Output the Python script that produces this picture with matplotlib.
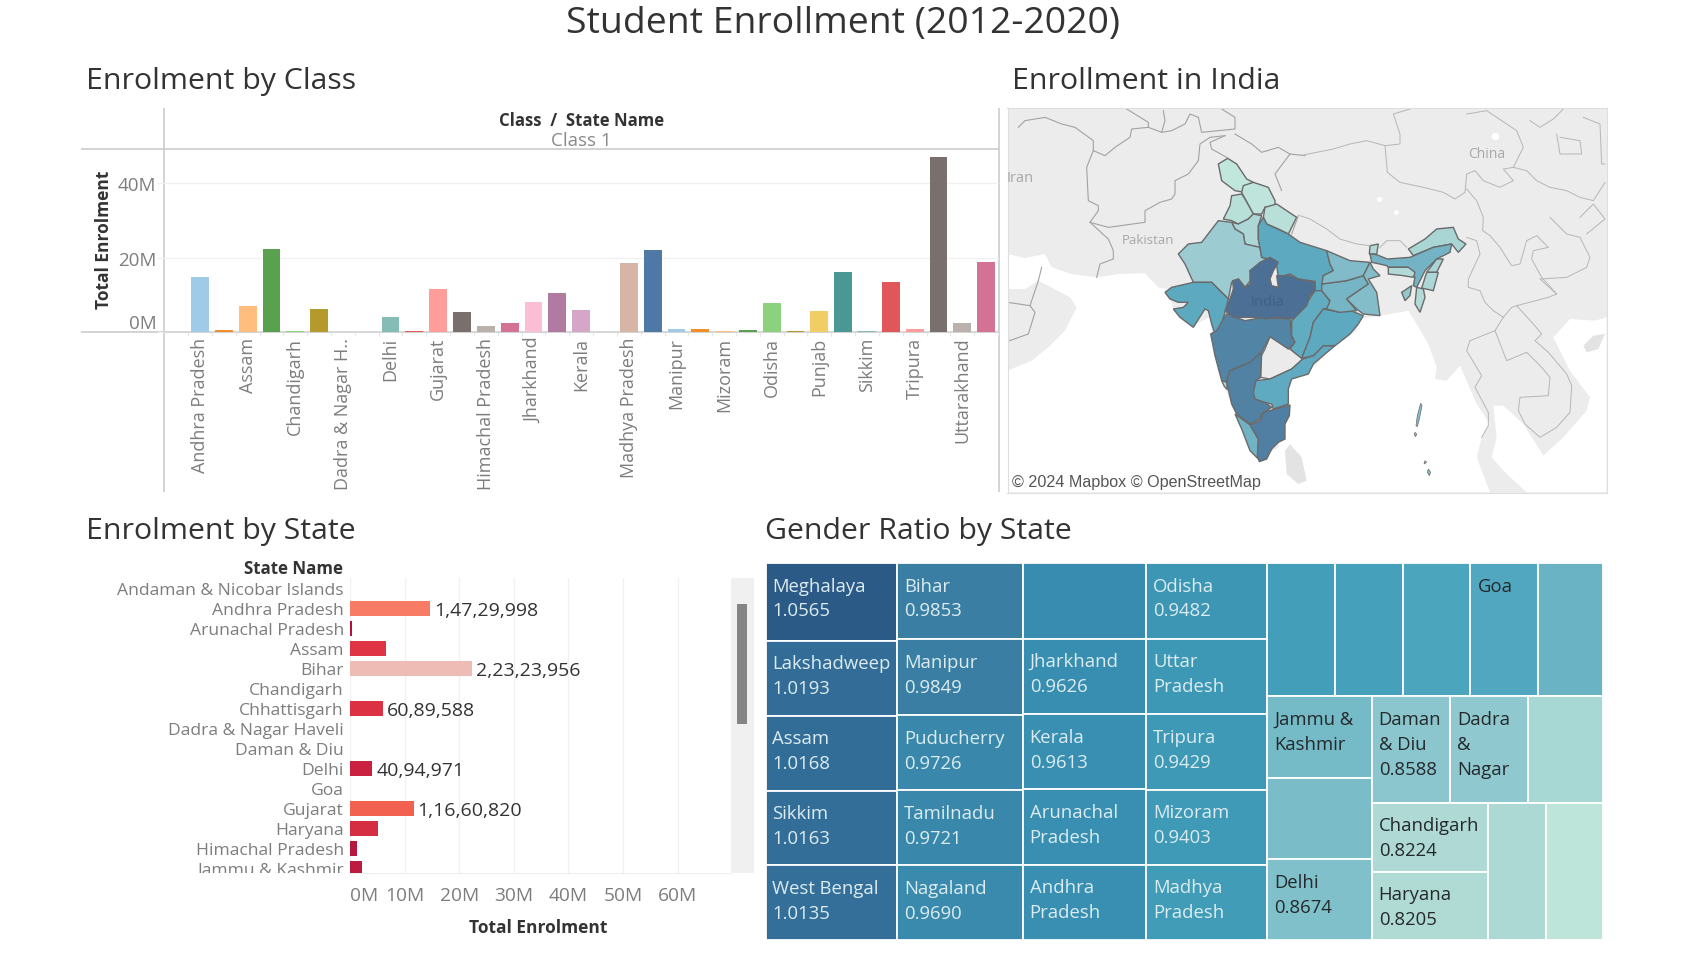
#!/usr/bin/env python
"""
Student Enrollment dashboard - bars, state map, horizontal bars, treemap
"""

import matplotlib
matplotlib.use('Agg')
import matplotlib.pyplot as plt
from matplotlib.colors import LinearSegmentedColormap
from matplotlib.patches import Rectangle
from matplotlib.transforms import Affine2D, Bbox

plt.rcParams['font.family'] = ['Open Sans', 'DejaVu Sans']

W, H = 1702, 954

# ---- Enrolment by Class (Class 1)
class_states = ['Andhra Pradesh', 'Arunachal Pradesh', 'Assam', 'Bihar', 'Chandigarh', 'Chhattisgarh',
                'Dadra & Nagar H..', 'Daman & Diu', 'Delhi', 'Goa', 'Gujarat', 'Haryana',
                'Himachal Pradesh', 'Jammu & Kashmir', 'Jharkhand', 'Karnataka', 'Kerala', 'Lakshadweep',
                'Madhya Pradesh', 'Maharashtra', 'Manipur', 'Meghalaya', 'Mizoram', 'Nagaland',
                'Odisha', 'Puducherry', 'Punjab', 'Rajasthan', 'Sikkim', 'Tamilnadu',
                'Tripura', 'Uttar Pradesh', 'Uttarakhand', 'West Bengal']
class_values = [14.73, 0.6, 7.0, 22.32, 0.3, 6.09, 0.0, 0.0, 4.09, 0.3, 11.66, 5.3,
                1.6, 2.5, 8.0, 10.5, 6.0, 0.0, 18.4, 22.1, 0.9, 0.9, 0.3, 0.6,
                7.8, 0.3, 5.7, 16.2, 0.3, 13.5, 0.9, 47.1, 2.5, 18.7]
class_colors = ['#a0cbe8', '#f28e2b', '#ffbe7d', '#59a14f', '#8cd17d', '#b6992d',
                '#499894', '#86bcb6', '#86bcb6', '#e15759', '#ff9d9a', '#79706e',
                '#bab0ac', '#d37295', '#fabfd2', '#b07aa1', '#d4a6c8', '#9d7660',
                '#d7b5a6', '#4e79a7', '#a0cbe8', '#f28e2b', '#ffbe7d', '#59a14f',
                '#8cd17d', '#b6992d', '#f1ce63', '#499894', '#86bcb6', '#e15759',
                '#ff9d9a', '#79706e', '#bab0ac', '#d37295']

# ---- Enrolment by State
state_names = ['Andaman & Nicobar Islands', 'Andhra Pradesh', 'Arunachal Pradesh', 'Assam', 'Bihar',
               'Chandigarh', 'Chhattisgarh', 'Dadra & Nagar Haveli', 'Daman & Diu', 'Delhi', 'Goa',
               'Gujarat', 'Haryana', 'Himachal Pradesh', 'Jammu & Kashmir']
state_values = [0.0, 14729998, 300000, 6600000, 22323956, 0.0, 6089588, 0.0, 0.0, 4094971, 0.0,
                11660820, 5200000, 1200000, 2200000]
state_colors = ['#ffffff', '#f87b65', '#b5103c', '#de3444', '#eebcb5', '#ffffff', '#dc3043', '#ffffff',
                '#ffffff', '#c9213f', '#ffffff', '#f26050', '#d52e42', '#b8173d', '#bc1c3f']
state_labels = ['', '1,47,29,998', '', '', '2,23,23,956', '', '60,89,588', '', '', '40,94,971', '',
                '1,16,60,820', '', '', '']

# ---- Gender Ratio by State (size and colour are both the ratio)
ratio_labels = ['Meghalaya\n1.0565', 'Lakshadweep\n1.0193', 'Assam\n1.0168', 'Sikkim\n1.0163', 'West Bengal\n1.0135',
                'Bihar\n0.9853', 'Manipur\n0.9849', 'Puducherry\n0.9726', 'Tamilnadu\n0.9721', 'Nagaland\n0.9690',
                '', 'Jharkhand\n0.9626', 'Kerala\n0.9613', 'Arunachal\nPradesh', 'Andhra\nPradesh',
                'Odisha\n0.9482', 'Uttar\nPradesh', 'Tripura\n0.9429', 'Mizoram\n0.9403', 'Madhya\nPradesh',
                '', '', '', 'Goa', '',
                'Jammu &\nKashmir', '', 'Delhi\n0.8674',
                'Daman\n& Diu\n0.8588', 'Dadra\n&\nNagar', '',
                'Chandigarh\n0.8224', 'Haryana\n0.8205', '', '']
ratio_values = [1.0565, 1.0193, 1.0168, 1.0163, 1.0135,
                0.9853, 0.9849, 0.9726, 0.9721, 0.9690,
                0.9650, 0.9626, 0.9613, 0.9610, 0.9600,
                0.9482, 0.9440, 0.9429, 0.9403, 0.9380,
                0.9350, 0.9320, 0.9280, 0.9250, 0.9000,
                0.8820, 0.8750, 0.8674,
                0.8588, 0.8550, 0.8300,
                0.8224, 0.8205, 0.8250, 0.8065]
ratio_tree = ('h', [('v', [0, 1, 2, 3, 4]), ('v', [5, 6, 7, 8, 9]), ('v', [10, 11, 12, 13, 14]),
                    ('v', [15, 16, 17, 18, 19]),
                    ('v', [('h', [20, 21, 22, 23, 24]),
                           ('h', [('v', [25, 26, 27]),
                                  ('v', [('h', [28, 29, 30]),
                                         ('h', [('v', [31, 32]), 33, 34])])])])])
ratio_stops = [(0.8065, '#bde5da'), (0.8224, '#aed9d4'), (0.83, '#a8d8d4'), (0.855, '#8fc9cf'),
               (0.8674, '#7fc0ca'), (0.882, '#75bac7'), (0.90, '#69b3c4'), (0.92, '#5cadc1'),
               (0.925, '#51a7bf'), (0.93, '#47a3bc'), (0.9403, '#3e9ab6'), (0.9613, '#388fb1'),
               (0.9853, '#3a7fa3'), (1.0135, '#336f99'), (1.0565, '#2c5a87')]

# ---- Map: outlines as traced, each with the origin of its trace (scale 1/3)
N_IND = (1150, 165)
S_IND = (1170, 300)
WEST = (1005, 105)
EAST = (1300, 105)
map_shade = {'J&K': 0.0, 'HP': 0.02, 'Punjab': 0.06, 'Uttarakhand': 0.06, 'Haryana': 0.14, 'Rajasthan': 0.25,
             'UP': 0.6, 'MP': 1.0, 'Gujarat': 0.6, 'Maharashtra': 0.8, 'Karnataka': 0.82, 'Kerala': 0.45,
             'TN': 0.84, 'AP': 0.58, 'Chhattisgarh': 0.56, 'Odisha': 0.6, 'Jharkhand': 0.42, 'Bihar': 0.36,
             'WB': 0.35, 'Sikkim': 0.1, 'Arunachal': 0.16, 'Assam': 0.44, 'Meghalaya': 0.1, 'Nagaland': 0.15,
             'Manipur': 0.14, 'Mizoram': 0.1, 'Tripura': 0.28, 'Goa': 0.1,
             'Andaman1': 0.35, 'Andaman2': 0.35, 'Andaman3': 0.35, 'Andaman4': 0.35}
map_shapes = {
    'J&K': (WEST, [(668, 163), (695, 180), (725, 225), (745, 235), (718, 265), (690, 260), (650, 230), (640, 180)]),
    'HP': (N_IND, [(280, 65), (310, 55), (355, 70), (375, 110), (375, 125), (345, 130), (335, 150), (310, 150), (280, 95), (275, 85)]),
    'Punjab': (N_IND, [(245, 95), (275, 90), (285, 105), (310, 150), (295, 165), (265, 180), (245, 170), (220, 165), (240, 125)]),
    'Uttarakhand': (N_IND, [(345, 130), (380, 120), (440, 160), (415, 210), (385, 195), (350, 180), (340, 160)]),
    'Haryana': (N_IND, [(245, 175), (265, 180), (295, 165), (310, 150), (335, 155), (325, 185), (325, 225), (330, 250), (305, 245), (285, 240), (280, 210), (255, 195)]),
    'Rajasthan': (N_IND, [(205, 170), (245, 175), (255, 195), (280, 210), (285, 240), (330, 250), (335, 280), (355, 285), (300, 320), (305, 345), (285, 370), (265, 345), (245, 355), (235, 405), (205, 375), (185, 355), (130, 355), (105, 300), (85, 270), (115, 240), (155, 235)]),
    'UP': (N_IND, [(340, 160), (350, 180), (415, 210), (450, 235), (530, 260), (540, 300), (550, 320), (520, 335), (515, 380), (495, 382), (495, 352), (445, 345), (420, 330), (385, 340), (380, 305), (355, 285), (335, 280), (325, 225), (325, 185)]),
    'Gujarat': (N_IND, [(45, 385), (65, 370), (130, 355), (185, 355), (235, 405), (225, 445), (215, 480), (195, 510), (185, 480), (175, 440), (165, 435), (130, 490), (90, 460), (70, 435), (100, 430), (115, 415), (85, 415), (60, 405)]),
    'Maharashtra': (S_IND, [(170, 45), (225, 65), (280, 55), (360, 60), (365, 115), (375, 130), (355, 150), (300, 113), (275, 160), (240, 190), (180, 215), (170, 250), (155, 245), (135, 170), (122, 105), (140, 95), (160, 60)]),
    'Chhattisgarh': (S_IND, [(435, -25), (455, -25), (475, 0), (490, 25), (460, 30), (430, 70), (420, 115), (395, 178), (360, 150), (375, 130), (365, 110), (365, 65), (405, 20)]),
    'MP': (N_IND, [(360, 280), (385, 295), (370, 320), (360, 345), (365, 365), (385, 370), (380, 335), (420, 335), (445, 345), (495, 355), (495, 380), (480, 395), (470, 425), (430, 465), (380, 460), (350, 465), (320, 460), (290, 460), (250, 460), (225, 440), (240, 405), (250, 375), (248, 350), (265, 345), (285, 370), (300, 360), (300, 320), (330, 295)]),
    'Karnataka': (S_IND, [(275, 160), (272, 235), (258, 245), (250, 280), (255, 300), (285, 310), (305, 325), (275, 345), (270, 360), (240, 375), (200, 345), (185, 315), (170, 250), (180, 215), (240, 190)]),
    'Goa': (S_IND, [(155, 245), (170, 250), (172, 272), (163, 262)]),
    'Kerala': (S_IND, [(195, 345), (240, 378), (265, 420), (265, 480), (240, 455), (215, 390)]),
    'TN': (S_IND, [(240, 378), (270, 365), (280, 340), (360, 318), (358, 350), (345, 375), (345, 420), (325, 430), (305, 450), (290, 480), (268, 488), (262, 470), (265, 420)]),
    'AP': (S_IND, [(258, 245), (300, 240), (365, 210), (398, 180), (430, 170), (460, 140), (495, 140), (465, 165), (430, 195), (415, 225), (365, 240), (355, 270), (355, 315), (310, 330), (305, 315), (285, 310), (255, 300), (250, 280)]),
    'Odisha': (S_IND, [(460, 30), (510, 40), (530, 30), (580, 50), (565, 75), (540, 105), (495, 140), (460, 140), (430, 170), (395, 178), (420, 115), (430, 70)]),
    'Jharkhand': (N_IND, [(515, 360), (590, 350), (640, 335), (655, 360), (590, 405), (620, 440), (570, 445), (530, 435), (540, 410), (515, 380)]),
    'Bihar': (N_IND, [(530, 260), (600, 290), (660, 295), (640, 335), (590, 350), (515, 360), (520, 335), (550, 320), (540, 300)]),
    'WB': (N_IND, [(660, 295), (670, 315), (690, 335), (655, 345), (680, 385), (690, 455), (640, 450), (620, 435), (590, 405), (655, 360), (640, 335)]),
    'Sikkim': (N_IND, [(660, 245), (685, 240), (680, 270), (658, 270)]),
    'Arunachal': (N_IND, [(775, 255), (825, 225), (860, 195), (910, 190), (925, 225), (948, 240), (925, 265), (905, 240), (850, 250), (790, 275)]),
    'Assam': (N_IND, [(660, 270), (680, 272), (712, 285), (780, 280), (850, 250), (905, 240), (900, 265), (860, 285), (825, 320), (800, 370), (790, 365), (795, 340), (775, 310), (715, 310), (710, 305), (680, 298), (665, 295)]),
    'Meghalaya': (N_IND, [(715, 310), (775, 310), (795, 325), (790, 340), (760, 335), (715, 330)]),
    'Nagaland': (N_IND, [(880, 285), (860, 325), (830, 325), (860, 285)]),
    'Manipur': (N_IND, [(830, 325), (865, 325), (850, 380), (815, 372)]),
    'Mizoram': (N_IND, [(800, 370), (820, 375), (825, 400), (810, 445), (795, 420)]),
    'Tripura': (N_IND, [(755, 385), (785, 365), (780, 395), (765, 410)]),
    'Andaman1': (EAST, [(362, 898), (366, 905), (358, 945), (352, 968), (348, 965), (352, 935)]),
    'Andaman2': (EAST, [(345, 985), (350, 990), (347, 998), (343, 992)]),
    'Andaman3': (EAST, [(385, 1095), (392, 1105), (388, 1115), (382, 1105)]),
    'Andaman4': (EAST, [(375, 1070), (380, 1075), (372, 1080)]),
}
telangana = [(300, 113), (360, 150), (398, 180), (365, 210), (300, 240), (272, 235), (272, 175), (285, 150)]
sea_west = [(8, 1165), (8, 800), (80, 770), (130, 730), (180, 680), (215, 610), (195, 580), (130, 545), (100, 530), (60, 555),
            (8, 555), (8, 450), (60, 462), (120, 450), (140, 490), (200, 510), (275, 520), (340, 510), (420, 508), (460, 550),
            (490, 555), (505, 620), (560, 665), (615, 640), (620, 690), (640, 800), (690, 930), (760, 1070), (820, 1030),
            (850, 910), (850, 830), (890, 790)]
sea_east = [(30, 800), (100, 730), (170, 680), (180, 645), (240, 635), (300, 625), (325, 620), (350, 660), (385, 720),
            (410, 790), (405, 825), (440, 830), (480, 785), (530, 900), (570, 960), (545, 1000), (530, 1060), (570, 1165)]
sea_china = [(580, 905), (610, 905), (670, 960), (730, 1055), (790, 1000), (860, 920), (870, 880), (810, 800), (760, 700),
             (810, 645), (885, 650), (920, 640), (920, 1165), (680, 1165), (620, 1110), (575, 1060), (590, 1000)]
sri_lanka = [(840, 1040), (855, 1020), (890, 1060), (905, 1130), (880, 1140), (845, 1110)]
hainan = [(850, 725), (880, 695), (915, 690), (895, 735), (860, 745)]
west_borders = [
    [(40, 70), (60, 50), (120, 40), (170, 60), (210, 70), (265, 110), (265, 140), (300, 155), (330, 130), (375, 100), (380, 75), (430, 70), (470, 85), (480, 50), (475, 20)],
    [(265, 140), (245, 190), (250, 290), (280, 305), (280, 320), (255, 355), (310, 370), (420, 355), (420, 320), (465, 295), (500, 285), (510, 270), (510, 230), (550, 210), (580, 170), (585, 120), (615, 100), (660, 95)],
    [(255, 355), (310, 405), (325, 440), (325, 465), (285, 480), (275, 520)],
    [(365, 15), (430, 55), (430, 70)],
    [(470, 85), (500, 80), (540, 60), (555, 30), (580, 40), (590, 85), (690, 75), (690, 40), (650, 15)],
    [(660, 95), (615, 115), (620, 135), (665, 160)],
    [(690, 90), (740, 120), (770, 145), (820, 130), (855, 150), (810, 210), (830, 260)],
    [(855, 150), (900, 155)],
    [(8, 595), (75, 605), (90, 625), (70, 690), (8, 712)],
    [(75, 605), (100, 530), (110, 490)],
    [(880, 335), (860, 390)],
]
east_borders = [
    [(0, 155), (50, 145), (100, 135), (150, 120), (200, 110), (255, 125), (300, 120), (300, 90), (280, 30), (330, 15)],
    [(0, 335), (30, 345), (80, 375), (120, 405), (170, 420), (210, 425)],
    [(240, 430), (260, 410), (300, 410), (320, 430)],
    [(255, 125), (262, 205), (300, 235), (370, 250), (430, 265), (465, 285), (495, 265), (500, 210), (525, 200), (550, 230), (600, 250), (640, 230), (610, 195), (640, 190), (680, 200), (710, 230), (750, 250), (800, 260), (840, 280), (880, 290), (915, 235)],
    [(500, 255), (530, 290), (550, 340), (548, 380), (570, 395), (600, 430), (635, 485), (660, 480), (680, 410), (710, 395), (745, 430), (700, 440), (695, 465), (725, 520), (770, 570), (745, 580), (650, 605), (635, 610), (610, 640), (580, 620), (555, 595), (540, 560), (505, 550), (505, 525), (540, 450), (530, 410), (500, 400)],
    [(610, 640), (585, 680), (510, 710), (500, 740), (530, 790), (545, 815), (525, 850), (565, 925), (565, 965), (545, 1000)],
    [(585, 680), (620, 770), (680, 745), (725, 790), (750, 820), (745, 875), (660, 880), (655, 920), (675, 960), (720, 1000), (770, 970), (810, 925), (815, 845), (800, 810), (745, 745), (705, 710), (725, 690), (700, 660), (650, 605)],
    [(690, 50), (720, 70), (760, 45), (790, 15)],
    [(780, 100), (840, 110), (845, 150), (780, 150), (770, 90)],
    [(850, 40), (900, 60), (905, 180), (915, 180)],
    [(750, 340), (800, 390), (840, 400), (870, 460), (860, 490), (800, 520), (720, 525), (770, 570)],
    [(840, 340), (880, 300), (915, 345), (860, 390)],
    [(500, 30), (560, 20), (650, 80), (670, 130), (640, 190)],
]
lakes = [(EAST, 585, 95, 30), (EAST, 238, 284, 14), (EAST, 288, 323, 12)]


def px_axes(x0, y0, x1, y1):
    return fig.add_axes([x0 / W, 1 - y1 / H, (x1 - x0) / W, (y1 - y0) / H])


def trace(origin, pts):
    return [(origin[0] + x / 3, origin[1] + y / 3) for x, y in pts]


def node_total(node):
    if isinstance(node, int):
        return ratio_values[node]
    return sum(node_total(c) for c in node[1])


def layout(node, x, y, w, h, rects):
    """Slice the unit square in proportion to the ratio values"""
    if isinstance(node, int):
        rects[node] = (x, y, w, h)
        return
    total = node_total(node)
    for child in node[1]:
        share = node_total(child) / total
        if node[0] == 'h':
            layout(child, x, y, w * share, h, rects)
            x += w * share
        else:
            layout(child, x, y, w, h * share, rects)
            y += h * share


fig = plt.figure(figsize=(W / 100, H / 100), dpi=100, facecolor='white')

# page furniture
page = px_axes(0, 0, W, H)
page.set_xlim(0, W)
page.set_ylim(H, 0)
page.axis('off')
page.text(843, 24, 'Student Enrollment (2012-2020)', fontsize=26.9, color='#333333', ha='center', va='center')
for x, y, txt in [(86, 81, 'Enrolment by Class'), (1012, 81.5, 'Enrollment in India'),
                  (86, 532, 'Enrolment by State'), (765, 532, 'Gender Ratio by State')]:
    page.text(x, y, txt, fontsize=21.8, color='#333333', ha='left', va='center')
for xs, ys in [((81, 999), (149.5, 149.5)), ((81, 999), (333, 333)), ((164, 164), (109, 493)), ((999, 999), (109, 493))]:
    page.plot(xs, ys, color='#c8c8c8', lw=1.1, solid_capstyle='butt')
page.text(582, 121, 'Class  /  State Name', fontsize=12.1, fontweight='bold', color='#333333', ha='center', va='center')
page.text(581, 141, 'Class 1', fontsize=13.5, color='#8a8a8a', ha='center', va='center')
page.text(104, 240, 'Total Enrolment', fontsize=12.5, fontweight='bold', color='#333333', rotation=90, ha='center', va='center')

# class bars
ax = px_axes(164, 149, 999, 333)
ax.patch.set_alpha(0)
positions = list(range(len(class_states)))
ax.bar(positions, class_values, width=0.75, color=class_colors, zorder=3)
ax.set_xlim(-1.51, 33.54)
ax.set_ylim(0, 49.4)
ax.set_yticks([0, 20, 40])
ax.set_yticklabels(['0M', '20M', '40M'], fontsize=13.5, color='#7d7d7d')
ax.get_yticklabels()[0].set_va('bottom')
ax.set_xticks(positions[::2])
ax.set_xticklabels(class_states[::2], rotation=90, fontsize=13, color='#7d7d7d', va='top', ha='center')
for lab in ax.get_xticklabels():
    lab.set_transform(lab.get_transform() + Affine2D().translate(2, 0))
lab0 = ax.get_yticklabels()[0]
lab0.set_transform(lab0.get_transform() + Affine2D().translate(0, 2))
ax.set_xticks([p - 0.5 for p in positions] + [33.5], minor=True)
ax.tick_params(axis='x', which='major', length=0, pad=3.5)
ax.tick_params(axis='x', which='minor', length=3, color='#e6e6e6', width=0.8)
ax.tick_params(axis='y', length=5, color='#f0f0f0', pad=0.5)
ax.grid(axis='y', color='#f1f1f1', lw=1, zorder=0)
ax.set_axisbelow(True)
for s in ax.spines.values():
    s.set_visible(False)

# state map
mp = px_axes(1007.5, 109, 1606.5, 493.5)
mp.set_xlim(1007.5, 1606.5)
mp.set_ylim(493.5, 109)
mp.set_facecolor('#ececec')
mp.set_xticks([])
mp.set_yticks([])
for s in mp.spines.values():
    s.set_color('#dedede')
cmap = LinearSegmentedColormap.from_list('blue_teal', [(0, '#c1e6dc'), (0.25, '#9ccbd1'), (0.4, '#78b6c6'),
                                                      (0.6, '#5da9c0'), (0.8, '#5284a6'), (1, '#4c6f96')])
mp.fill(*zip(*(trace(WEST, sea_west) + trace(EAST, sea_east))), color='white', lw=0)
mp.fill(*zip(*trace(EAST, sea_china)), color='white', lw=0)
mp.fill(*zip(*trace(WEST, sri_lanka)), color='#e3e3e3', lw=0)
mp.fill(*zip(*trace(EAST, hainan)), color='#e3e3e3', lw=0)
for origin, lx, ly, size in lakes:
    p = trace(origin, [(lx, ly)])[0]
    mp.scatter([p[0]], [p[1]], s=size, color='white', lw=0)
for line in west_borders:
    mp.plot(*zip(*trace(WEST, line)), color='#a2a2a2', lw=0.8)
for line in east_borders:
    mp.plot(*zip(*trace(EAST, line)), color='#b6b6b6', lw=0.7)
mp.fill(*zip(*trace(S_IND, telangana)), facecolor='#ebebeb', edgecolor='#6e6e6e', lw=0.9)
for name, (origin, pts) in map_shapes.items():
    mp.fill(*zip(*trace(origin, pts)), facecolor=cmap(map_shade[name]), edgecolor='#6a6a6a',
            lw=0.5 if name.startswith('Andaman') else 1.0)
mp.text(1020, 178, 'Iran', fontsize=10.5, color='#a8a8a8', ha='center', va='center')
mp.text(1148, 241, 'Pakistan', fontsize=9.5, color='#a8a8a8', ha='center', va='center')
mp.text(1487, 155, 'China', fontsize=10, color='#a8a8a8', ha='center', va='center')
mp.text(1268, 303, 'India', fontsize=10.5, color='#3f6186', ha='center', va='center')
mp.text(1012, 483, '\u00a9 2024 Mapbox \u00a9 OpenStreetMap', fontsize=11.6, family='Liberation Sans', color='#555555',
        ha='left', va='center', bbox=dict(facecolor='white', edgecolor='none', alpha=0.7, pad=2))

# state bars, rows run on past the bottom edge of the view
bx = px_axes(350, 579, 731, 874)
rows = list(range(len(state_names)))
bx.barh(rows, state_values, height=0.75, color=state_colors, zorder=3)
bx.set_ylim(14.235, -0.515)
bx.set_xlim(0, 69.8e6)
bx.set_xticks([v * 1e6 for v in [0, 10, 20, 30, 40, 50, 60]])
bx.set_xticklabels(['0M', '10M', '20M', '30M', '40M', '50M', '60M'], fontsize=13.8, color='#7d7d7d')
bx.get_xticklabels()[0].set_ha('left')
bx.set_yticks(rows)
bx.set_yticklabels(state_names, fontsize=12.6, color='#7d7d7d')
view = Bbox([[0, H - 874], [W, H - 579]])
for lab in bx.get_yticklabels():
    lab.set_clip_box(view)
    lab.set_clip_on(True)
    lab.set_transform(lab.get_transform() + Affine2D().translate(0, -1))
bx.tick_params(axis='y', length=0, pad=4.5)
bx.tick_params(axis='x', length=0, pad=9.5)
bx.grid(axis='x', color='#f1f1f1', lw=1, zorder=0)
bx.set_axisbelow(True)
for s in ['top', 'right', 'left']:
    bx.spines[s].set_visible(False)
bx.spines['bottom'].set_color('#eeeeee')
for r, v, lab in zip(rows, state_values, state_labels):
    if lab:
        bx.annotate(lab, (v, r), xytext=(4, -2), textcoords='offset pixels', fontsize=14, color='#333333',
                    va='center', ha='left')
page.text(343, 569, 'State Name', fontsize=12.2, fontweight='bold', color='#333333', ha='right', va='center')
page.text(538, 928, 'Total Enrolment', fontsize=12.5, fontweight='bold', color='#333333', ha='center', va='center')
page.add_patch(Rectangle((730, 579), 24, 295, facecolor='#f0f0f0', edgecolor='none'))
page.add_patch(Rectangle((737, 605), 10, 120, facecolor='#858585', edgecolor='none'))

# gender ratio treemap
tm = px_axes(765.5, 564, 1603, 941)
tm.set_xlim(0, 1)
tm.set_ylim(1, 0)
tm.axis('off')
lo, hi = ratio_stops[0][0], ratio_stops[-1][0]
tm_cmap = LinearSegmentedColormap.from_list('ratio', [((v - lo) / (hi - lo), c) for v, c in ratio_stops])
rects = {}
layout(ratio_tree, 0, 0, 1, 1, rects)
for i, (x, y, w, h) in rects.items():
    tm.add_patch(Rectangle((x, y), w, h, facecolor=tm_cmap((ratio_values[i] - lo) / (hi - lo)),
                           edgecolor='white', lw=1.3))
    txt_color = '#dcecf0' if ratio_values[i] > 0.926 else '#24292b'
    for n, line in enumerate(ratio_labels[i].split('\n')):
        if line:
            tm.annotate(line, (x, y), xytext=(7, -(22.5 + 25 * n)), textcoords='offset pixels',
                        fontsize=13.3, color=txt_color, ha='left', va='center')

fig.savefig('out.png', dpi=100)
print('[OK] Saved: out.png')
